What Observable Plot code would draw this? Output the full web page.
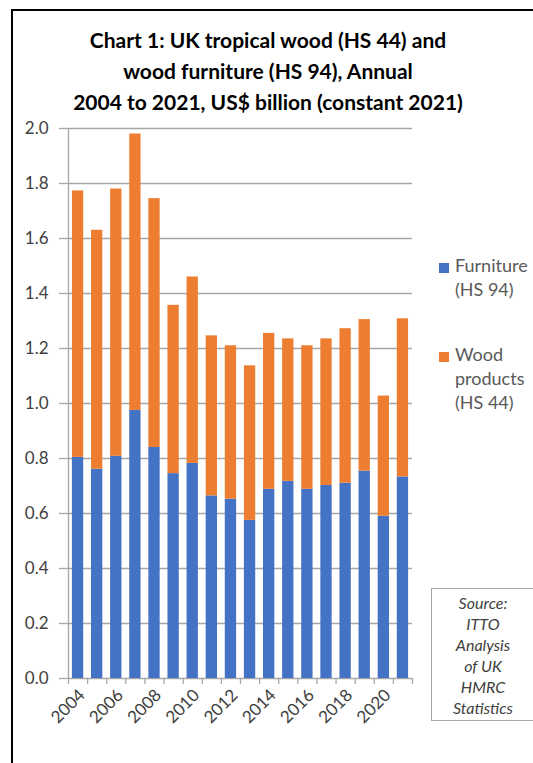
<!DOCTYPE html>
<html>
<head>
<meta charset="utf-8">
<script src="https://cdn.jsdelivr.net/npm/d3@7"></script>
<script src="https://cdn.jsdelivr.net/npm/@observablehq/plot@0.6"></script>
<style>
  html, body { margin: 0; padding: 0; background: #fff; }
  #page { position: relative; width: 533px; height: 763px; overflow: hidden; font-family: Lato, "Open Sans", sans-serif; }
  #frame { position: absolute; left: 11px; top: 9px; width: 600px; height: 800px; border-left: 2px solid #000; border-top: 2px solid #000; }
  #title { position: absolute; left: 12px; width: 512px; top: 24px; text-align: center; font-weight: bold; font-size: 21px; line-height: 31px; color: #000; }
  #chart { position: absolute; left: 0; top: 100px; }
  .leg { position: absolute; left: 455px; font-size: 18px; line-height: 24px; color: #595959; }
  .sw { position: absolute; width: 10px; height: 10px; left: 439px; }
  #source { position: absolute; left: 431px; top: 588px; width: 104px; height: 133px; border: 1.5px solid #a6a6a6; box-sizing: border-box; text-align: center; font-style: italic; font-size: 16px; line-height: 21px; color: #404040; padding-top: 3px; }
</style>
</head>
<body>
<div id="page">
  <div id="frame"></div>
  <div id="title"></div>
  <div id="chart"></div>
  <div id="legend"></div>
  <div id="source"></div>
</div>
<script>
const title = ["Chart 1: UK tropical wood (HS 44) and", "wood furniture (HS 94), Annual", "2004 to 2021, US$ billion (constant 2021)"];
const years = [2004, 2005, 2006, 2007, 2008, 2009, 2010, 2011, 2012, 2013, 2014, 2015, 2016, 2017, 2018, 2019, 2020, 2021];
const furniture = [0.804, 0.761, 0.808, 0.975, 0.840, 0.745, 0.782, 0.664, 0.652, 0.575, 0.688, 0.717, 0.688, 0.702, 0.710, 0.754, 0.590, 0.733];
const woodProducts = [0.969, 0.869, 0.972, 1.005, 0.905, 0.612, 0.678, 0.582, 0.558, 0.562, 0.567, 0.518, 0.522, 0.533, 0.562, 0.551, 0.437, 0.575];
const seriesNames = ["Furniture (HS 94)", "Wood products (HS 44)"];
const legendLines = [["Furniture", "(HS 94)"], ["Wood", "products", "(HS 44)"]];
const colors = ["#4472C4", "#ED7D31"];
const yTicks = [0, 0.2, 0.4, 0.6, 0.8, 1.0, 1.2, 1.4, 1.6, 1.8, 2.0];
const xLabels = [2004, 2006, 2008, 2010, 2012, 2014, 2016, 2018, 2020];
const sourceLines = ["Source:", "ITTO", "Analysis", "of UK", "HMRC", "Statistics"];

document.getElementById("title").innerHTML = title.map(t => `<div>${t}</div>`).join("");
document.getElementById("source").innerHTML = sourceLines.map(t => `<div>${t}</div>`).join("");

// legend
const legendTops = [260, 349];
document.getElementById("legend").innerHTML = legendLines.map((lines, i) =>
  `<div class="sw" style="top:${legendTops[i] + 3}px;background:${colors[i]}"></div>` +
  `<div class="leg" style="top:${legendTops[i] - 7}px">${lines.join("<br>")}</div>`
).join("");

// stacked rows
const rows = [];
years.forEach((yr, i) => {
  rows.push({year: yr, series: seriesNames[0], y1: 0, y2: furniture[i]});
  rows.push({year: yr, series: seriesNames[1], y1: furniture[i], y2: furniture[i] + woodProducts[i]});
});
const boundaries = years.map(y => y - 0.5).concat([years[years.length - 1] + 0.5]);

const chart = Plot.plot({
  width: 533,
  height: 663,
  marginLeft: 68,
  marginRight: 121,
  marginTop: 28,
  marginBottom: 85,
  style: {fontFamily: "Lato, 'Open Sans', sans-serif", color: "#595959", background: "transparent", overflow: "visible"},
  x: {type: "linear", domain: [boundaries[0], boundaries[boundaries.length - 1]]},
  y: {domain: [0, 2]},
  color: {domain: seriesNames, range: colors},
  marks: [
    Plot.gridY(yTicks, {stroke: "#a6a6a6", strokeOpacity: 1, strokeWidth: 1.3}),
    Plot.rectY(rows, {x1: d => d.year - 0.5, x2: d => d.year + 0.5, y1: "y1", y2: "y2", fill: "series", insetLeft: 3.9, insetRight: 3.9}),
    Plot.ruleX([boundaries[0]], {stroke: "#a6a6a6", strokeWidth: 1.3}),
    Plot.axisY({ticks: yTicks, tickFormat: d3.format(".1f"), tickSize: 9, tickPadding: 11, stroke: "#a6a6a6", strokeWidth: 1.3, fontSize: 17, fill: "#404040", label: null}),
    Plot.axisX({ticks: boundaries, tickFormat: () => "", tickSize: 6, stroke: "#a6a6a6", strokeWidth: 1.3, label: null}),
    Plot.axisX({ticks: xLabels, tickFormat: d => String(d), tickSize: 0, tickRotate: -45, tickPadding: 14, fontSize: 17, fill: "#404040", label: null, dx: 4})
  ]
});
document.getElementById("chart").appendChild(chart);
</script>
</body>
</html>
